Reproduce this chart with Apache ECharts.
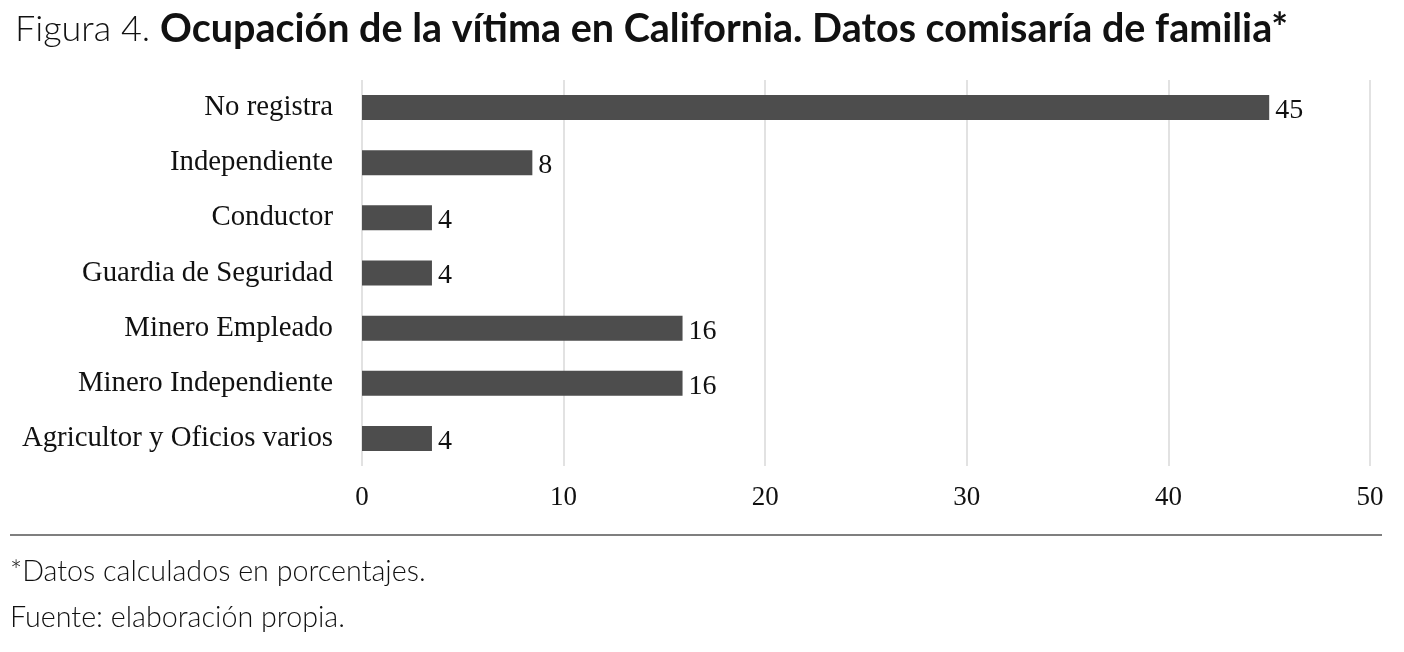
<!DOCTYPE html>
<html><head><meta charset="utf-8">
<script src="https://cdn.jsdelivr.net/npm/echarts@6/dist/echarts.min.js"></script>
<style>html,body{margin:0;padding:0;background:#fff;}#c{width:1404px;height:652px;}</style>
</head><body><div id="c"></div>
<script>
const categories = ["No registra","Independiente","Conductor","Guardia de Seguridad","Minero Empleado","Minero Independiente","Agricultor y Oficios varios"];
const values = [45, 8.45, 3.47, 3.47, 15.9, 15.9, 3.47];
const valueLabels = ["45","8","4","4","16","16","4"];
const xTicks = [0,10,20,30,40,50];

const serif = "'Liberation Serif', 'DejaVu Serif', serif";
const sans = "Lato, 'Open Sans', sans-serif";
const chart = echarts.init(document.getElementById('c'));
chart.setOption({
  animation:false,
  backgroundColor:'#fff',
  title:{
    left:10, top:4,
    text:'{a|Figura 4. }{b|Ocupación de la vítima en California. Datos comisaría de familia*}',
    textStyle:{rich:{
      a:{fontFamily:sans,fontSize:36,fontWeight:300,color:'#111'},
      b:{fontFamily:sans,fontSize:39.5,fontWeight:'bold',color:'#111'}
    }}
  },
  grid:{left:362,right:34,top:80,bottom:186},
  xAxis:{
    type:'value',min:xTicks[0],max:xTicks[xTicks.length-1],interval:10,
    axisLine:{show:false},axisTick:{show:false},
    splitLine:{lineStyle:{color:'#d9d9d9',width:1.5}},
    axisLabel:{fontFamily:serif,fontSize:27,color:'#111',margin:18}
  },
  yAxis:{
    type:'category',data:categories,inverse:true,
    axisLine:{show:false},axisTick:{show:false},
    axisLabel:{fontFamily:serif,fontSize:28.8,color:'#111',margin:29}
  },
  series:[{
    type:'bar',data:values,barWidth:25,
    itemStyle:{color:'#4d4d4d'},
    label:{show:true,position:'right',distance:6,fontFamily:serif,fontSize:28,color:'#111',offset:[0,3],
      formatter:p=>valueLabels[p.dataIndex]}
  }],
  graphic:[
    {type:'line',shape:{x1:10,y1:535,x2:1382,y2:535},style:{stroke:'#555',lineWidth:1.5}},
    {type:'text',left:10,top:557,style:{text:'*Datos calculados en porcentajes.',font:"300 28.7px "+sans,fill:'#111'}},
    {type:'text',left:10,top:603,style:{text:'Fuente: elaboración propia.',font:"300 28.7px "+sans,fill:'#111'}}
  ]
});
</script></body></html>
